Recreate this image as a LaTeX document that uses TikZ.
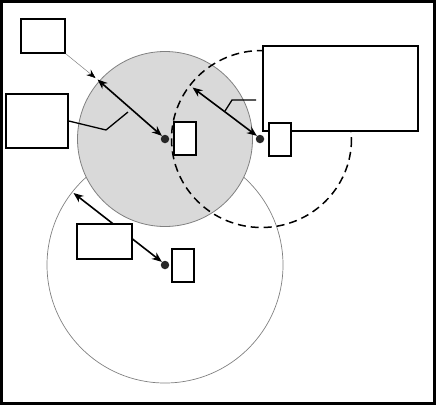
\documentclass[tikz,border=0pt]{standalone}
\usetikzlibrary{arrows.meta}
\definecolor{fillgray}{HTML}{D9D9D9}
\tikzset{
  boxnode/.style={draw=black, line width=1.6pt, fill=white, inner sep=0pt, rectangle},
  dimarrow/.style={line width=1.6pt, {Stealth[length=10pt,width=8pt]}-{Stealth[length=10pt,width=8pt]}},
  leader/.style={line width=1.3pt},
  thinleader/.style={line width=0.5pt, draw=gray, -{Stealth[length=9pt,width=7pt,inset=3pt,black]}},
  centerdot/.style={circle, fill=black!85, inner sep=0pt, minimum size=8.5pt},
}
\begin{document}
\begin{tikzpicture}[x=1pt,y=-1pt]
\useasboundingbox (0,0) rectangle (436,405);
\draw[line width=2.6pt] (1.3,1.3) rectangle (434.7,403.7);
% circles
\draw[gray, line width=0.7pt] (165,265) circle[radius=118];
\draw[gray, line width=0.8pt, fill=fillgray] (165,139) circle[radius=87.5];
\draw[line width=1.5pt, dash pattern=on 8pt off 5pt] (261.5,139) ellipse[x radius=90, y radius=88.5];
% dots
\node[centerdot] (d1) at (165,139) {};
\node[centerdot] (d2) at (260,139) {};
\node[centerdot] (d3) at (165,265) {};
% arrow endpoints on circles
\coordinate (p1) at (97.5,79.5);
\coordinate (p2) at (192.5,87.5);
\coordinate (p3) at (73.5,193);
\coordinate (q1) at (95.5,78);
% dimension arrows
\draw[dimarrow] (p1) -- (d1.north west);
\draw[dimarrow] (p2) -- (d2.north west);
\draw[dimarrow] (p3) -- (d3.north west);
% boxes
\node[boxnode, minimum width=44pt, minimum height=34pt] (A) at (43,36) {};
\node[boxnode, minimum width=62pt, minimum height=54pt] (B) at (37,121) {};
\node[boxnode, minimum width=22pt, minimum height=33pt] (C) at (185,138.5) {};
\node[boxnode, minimum width=155pt, minimum height=85pt] (D) at (340.5,88.5) {};
\node[boxnode, minimum width=22pt, minimum height=33pt] (E) at (280,139.5) {};
\node[boxnode, minimum width=55pt, minimum height=35pt] (F) at (104.5,241.5) {};
\node[boxnode, minimum width=22pt, minimum height=33pt] (G) at (183,265.5) {};
% leaders
\draw[thinleader] (A.south east) -- (q1);
\coordinate (b1) at (106,130);
\coordinate (b2) at (128,112);
\draw[leader] (B.east) -- (b1) -- (b2);
\coordinate (e0) at (256,100);
\coordinate (e1) at (232,100);
\coordinate (e2) at (225,111);
\draw[leader] (e0) -- (e1) -- (e2);
\end{tikzpicture}
\end{document}
